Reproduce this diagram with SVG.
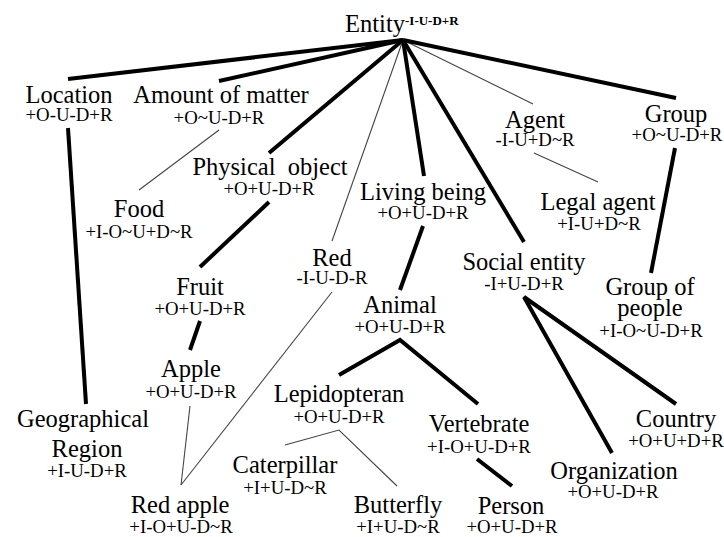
<svg xmlns="http://www.w3.org/2000/svg" width="724" height="537" viewBox="0 0 724 537">
<style>
text{font-family:"Liberation Serif","Times New Roman",Times,"DejaVu Serif",serif;fill:#000}
.n{font-size:24.5px;text-anchor:middle}
.s{font-size:18.8px;text-anchor:middle}
.sup{font-size:13px;font-weight:bold}
.k{stroke:#000;stroke-width:4;fill:none;stroke-linecap:butt}
.t{stroke:#444;stroke-width:1.1;fill:none}
</style>
<rect width="724" height="537" fill="#fff"/>
<g id="connectors">
<line class="k" x1="403" y1="40" x2="68" y2="79"/>
<line class="k" x1="403" y1="40" x2="219" y2="81"/>
<line class="k" x1="403" y1="40" x2="269" y2="153"/>
<line class="t" x1="403" y1="40" x2="332" y2="241"/>
<line class="k" x1="403" y1="40" x2="424" y2="176"/>
<line class="k" x1="403" y1="40" x2="524" y2="242"/>
<line class="t" x1="403" y1="40" x2="533" y2="104"/>
<line class="k" x1="403" y1="40" x2="676" y2="98"/>
<line class="k" x1="68" y1="128" x2="86" y2="404"/>
<line class="t" x1="219" y1="130" x2="139" y2="190"/>
<line class="k" x1="269" y1="202" x2="200" y2="267"/>
<line class="k" x1="200" y1="321" x2="190" y2="350"/>
<line class="t" x1="190" y1="406" x2="181" y2="485"/>
<line class="t" x1="332" y1="292" x2="181" y2="485"/>
<line class="k" x1="423" y1="226" x2="400" y2="290"/>
<polyline class="k" points="339,375 400,340 478,404"/>
<polyline class="t" points="285,445 339,430 397,486"/>
<line class="k" x1="477" y1="459" x2="512" y2="486"/>
<line class="t" x1="534" y1="153" x2="598" y2="182"/>
<line class="k" x1="675" y1="148" x2="651" y2="273"/>
<polyline class="k" points="612,453 524,297 676,404"/>
</g>
<g id="entity"><text class="n" x="375" y="32">Entity</text><text class="sup" x="405" y="25">-I-U-D+R</text></g>
<g id="location"><text class="n" x="69" y="103">Location</text><text class="s" x="69" y="121">+O-U-D+R</text></g>
<g id="amount"><text class="n" x="221" y="103">Amount of matter</text><text class="s" x="219" y="124">+O~U-D+R</text></g>
<g id="physical"><text class="n" x="270" y="175" xml:space="preserve">Physical  object</text><text class="s" x="269" y="195">+O+U-D+R</text></g>
<g id="food"><text class="n" x="139" y="217">Food</text><text class="s" x="139" y="238">+I-O~U+D~R</text></g>
<g id="fruit"><text class="n" x="200" y="295">Fruit</text><text class="s" x="200" y="315">+O+U-D+R</text></g>
<g id="red"><text class="n" x="332" y="266">Red</text><text class="s" x="332" y="284">-I-U-D-R</text></g>
<g id="living"><text class="n" x="423" y="200">Living being</text><text class="s" x="423" y="219">+O+U-D+R</text></g>
<g id="agent"><text class="n" x="535" y="128">Agent</text><text class="s" x="535" y="146">-I-U+D~R</text></g>
<g id="group"><text class="n" x="676" y="122">Group</text><text class="s" x="677" y="141">+O~U-D+R</text></g>
<g id="legal"><text class="n" x="598" y="210">Legal agent</text><text class="s" x="599" y="230">+I-U+D~R</text></g>
<g id="social"><text class="n" x="524" y="270">Social entity</text><text class="s" x="524" y="290">-I+U-D+R</text></g>
<g id="groupofpeople"><text class="n" x="650" y="295">Group of</text><text class="n" x="650" y="316">people</text><text class="s" x="651" y="337">+I-O~U-D+R</text></g>
<g id="animal"><text class="n" x="400" y="313">Animal</text><text class="s" x="400" y="333">+O+U-D+R</text></g>
<g id="apple"><text class="n" x="191" y="377">Apple</text><text class="s" x="191" y="398">+O+U-D+R</text></g>
<g id="geo"><text class="n" x="83" y="427">Geographical</text><text class="n" x="87" y="457">Region</text><text class="s" x="87" y="477">+I-U-D+R</text></g>
<g id="lepidopteran"><text class="n" x="339" y="402">Lepidopteran</text><text class="s" x="339" y="423">+O+U-D+R</text></g>
<g id="caterpillar"><text class="n" x="285" y="473">Caterpillar</text><text class="s" x="285" y="494">+I+U-D~R</text></g>
<g id="butterfly"><text class="n" x="398" y="513">Butterfly</text><text class="s" x="398" y="533">+I+U-D~R</text></g>
<g id="redapple"><text class="n" x="180" y="513">Red apple</text><text class="s" x="181" y="533">+I-O+U-D~R</text></g>
<g id="vertebrate"><text class="n" x="479" y="432">Vertebrate</text><text class="s" x="479" y="453">+I-O+U-D+R</text></g>
<g id="person"><text class="n" x="511" y="514">Person</text><text class="s" x="512" y="533">+O+U-D+R</text></g>
<g id="organization"><text class="n" x="614" y="479">Organization</text><text class="s" x="613" y="498">+O+U-D+R</text></g>
<g id="country"><text class="n" x="676" y="427">Country</text><text class="s" x="676" y="447">+O+U+D+R</text></g>
</svg>
